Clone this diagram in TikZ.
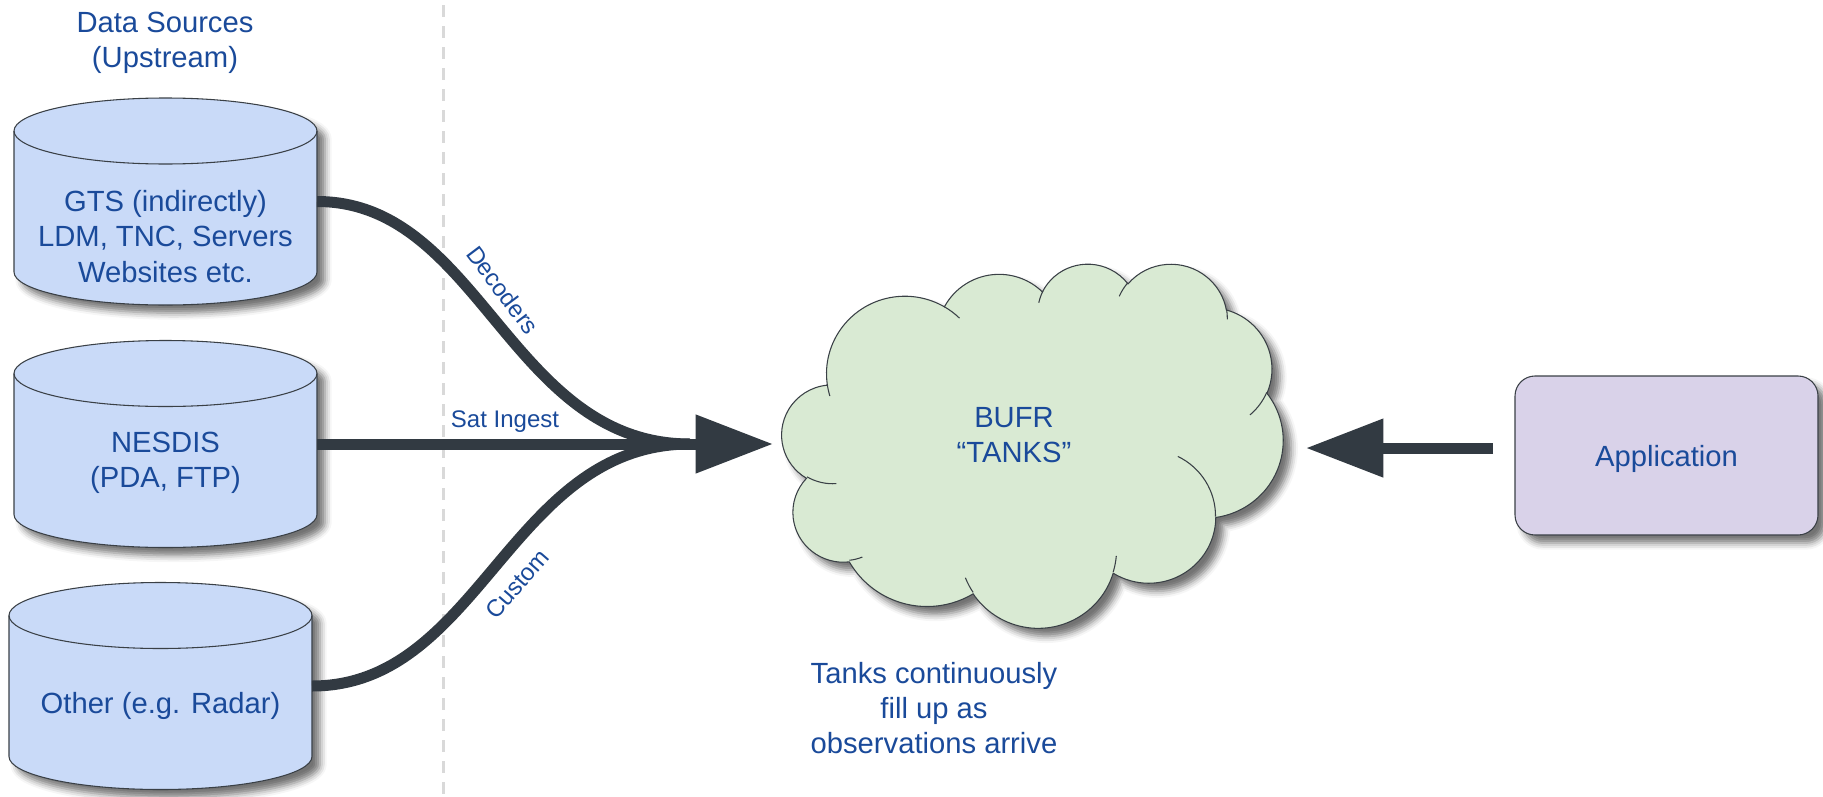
\documentclass[tikz,border=0pt]{standalone}
\usepackage{fontspec}
\setmainfont{Liberation Sans}
\usetikzlibrary{arrows.meta,calc,shadows.blur}

\definecolor{txtblue}{HTML}{1A4A9A}
\definecolor{flowcol}{HTML}{323A42}
\definecolor{edgecol}{HTML}{3A4046}
\definecolor{cylfill}{HTML}{C9DAF8}
\definecolor{cloudfill}{HTML}{D9EAD3}
\definecolor{appfill}{HTML}{D9D2E9}
\definecolor{divcol}{HTML}{D9D9D9}

% elliptical arc given by radii, visual start angle and sweep (degrees)
\newcommand\officearc[4]{arc[x radius=#1, y radius=#2,
  start angle={atan2((#1)*sin(#3),(#2)*cos(#3))},
  delta angle={mod(atan2((#1)*sin((#3)+(#4)),(#2)*cos((#3)+(#4)))-atan2((#1)*sin(#3),(#2)*cos(#3))+720,360)}]}

\tikzset{
  maintext/.style={text=txtblue, font=\fontsize{21.9}{26.5}\selectfont, align=center, inner sep=0pt},
  smalltext/.style={text=txtblue, font=\fontsize{18}{21}\selectfont, inner sep=0pt},
  softshadow/.style={blur shadow={shadow xshift=6pt, shadow yshift=-6pt, shadow blur radius=5pt, shadow opacity=55}},
  cylbox/.style={rectangle, minimum width=227.25pt, minimum height=155.25pt, inner sep=0pt, outer sep=0pt},
  cylshape/.style={fill=cylfill, draw=edgecol, line width=0.8pt, softshadow},
  cyledge/.style={draw=edgecol, line width=0.8pt},
  cloudbox/.style={rectangle, minimum width=375.75pt, minimum height=273pt, inner sep=0pt, outer sep=0pt},
  cloudshape/.style={fill=cloudfill, draw=edgecol, line width=0.8pt, softshadow},
  appbox/.style={rectangle, rounded corners=15pt, fill=appfill, draw=edgecol, line width=0.8pt,
    minimum width=227.25pt, minimum height=119.25pt, inner sep=0pt, outer sep=0pt, softshadow,
    text=txtblue, text depth=0pt, font=\fontsize{21.9}{26.5}\selectfont},
  flow/.style={draw=flowcol, line width=8.25pt},
  bigtip/.style={-{Triangle[length=58pt,width=42pt]}},
  divider/.style={draw=divcol, line width=2.25pt, dash pattern=on 9pt off 6.75pt},
}

\begin{document}
\begin{tikzpicture}[x=0.75pt, y=-0.75pt]
\useasboundingbox (0,0) rectangle (1823,796);

% separator between sources and processing
\draw[divider] (443.7,5) -- (443.7,796);

% data source cylinders
\node[cylbox] (gts) at (165.5,201.5) {};
\node[cylbox] (nesdis) at (165.5,444) {};
\node[cylbox] (other) at (160.5,686) {};
\foreach \n in {gts,nesdis,other}{
  \path[cylshape] ($(\n.north west)+(0,33)$) -- ($(\n.south west)+(0,-33)$)
     arc[start angle=180, end angle=0, x radius=151.5, y radius=33]
     -- ($(\n.north east)+(0,33)$)
     arc[start angle=0, end angle=-180, x radius=151.5, y radius=33] -- cycle;
  \draw[cyledge] ($(\n.north west)+(0,33)$)
     arc[start angle=180, end angle=0, x radius=151.5, y radius=33];
}

\node[maintext] (title) at (165,43) {Data Sources\\(Upstream)};
\node[maintext] (gts-text) at (165.5,236.5) {GTS (indirectly)\\LDM, TNC, Servers\\Websites etc.};
\node[maintext] (nesdis-text) at (165.5,463) {NESDIS\\(PDA, FTP)};
\node[maintext] (other-text) at (160.5,705.5) {Other (e.g. Radar)};

% the BUFR tanks cloud
\node[cloudbox] (cloud) at (1032.5,445) {};
\begin{scope}[shift={(782,263)}, x=0.869792pt, y=-0.631944pt]
  \path[cloudshape] (39,143.7)
    \officearc{67.53}{91.90}{-190.4875}{123.7805}
    \officearc{53.33}{72.67}{-144.1024}{89.9452}
    \officearc{43.65}{59.45}{-145.8079}{99.7230}
    \officearc{48.57}{65.95}{-130.9861}{117.2417}
    \officearc{53.33}{72.73}{-78.7089}{109.0269}
    \officearc{67.75}{92.20}{-46.2673}{130.2690}
    \officearc{57.85}{78.67}{0.6250}{114.0333}
    \officearc{67.52}{92.15}{22.4516}{115.1726}
    \officearc{77.20}{105.43}{66.2426}{75.7110}
    \officearc{43.60}{59.18}{-274.9421}{146.7356}
    \officearc{43.45}{59.45}{-246.8285}{152.5189}
    -- cycle;
  \draw[cyledge]
    (46.93,261.77) \officearc{43.45}{59.45}{86.742}{26.4295}
    (69.28,348.99) \officearc{43.60}{59.18}{73.6105}{11.4475}
    (164.78,390.90) \officearc{67.52}{92.15}{137.6242}{14.0811}
    (288.27,347.51) \officearc{67.52}{92.15}{6.4533}{15.9984}
    (341.29,229.54) \officearc{57.85}{78.67}{-70.2924}{70.9174}
    (417.98,153.54) \officearc{53.33}{72.73}{30.3180}{27.7515}
    (383.24,54.26) \officearc{48.57}{65.95}{-13.7443}{14.8589}
    (290.78,39.52) \officearc{48.57}{65.95}{-149.1815}{18.1954}
    (221.41,47.20) \officearc{43.65}{59.45}{-163.4943}{17.6864}
    (140.00,51.92) \officearc{67.53}{91.90}{-66.7070}{12.3194}
    (41.27,157.89) \officearc{67.53}{91.90}{157.6544}{11.8582};
\end{scope}
\node[maintext] (tanks) at (1014,435) {BUFR\\“TANKS”};

\node[maintext] (note) at (934,708) {Tanks continuously\\fill up as\\observations arrive};

% application box
\node[appbox] (app) at (1666.5,455.5) {Application};

% ingest flows merging into the tanks
\coordinate (merge) at (690,444);
\draw[flow] (gts.east) .. controls +(163,0) and +(-180,0) .. (merge);
\draw[flow] (nesdis.east) -- (merge);
\draw[flow] (other.east) .. controls +(168,0) and +(-180,0) .. (merge);
\draw[flow, bigtip, shorten >=6.75pt] (merge) -- (merge -| cloud.west);

\node[smalltext, rotate=-53] (dec) at (503,290) {Decoders};
\node[smalltext, anchor=base] (sat) at (505,427) {Sat Ingest};
\node[smalltext, rotate=49] (cust) at (517,584) {Custom};

% application reads from the tanks
\draw[flow, bigtip, shorten <=16.5pt, shorten >=17.25pt]
  ([yshift=5.6pt]app.west) -- ([yshift=5.6pt]app.west -| cloud.east);
\end{tikzpicture}
\end{document}
